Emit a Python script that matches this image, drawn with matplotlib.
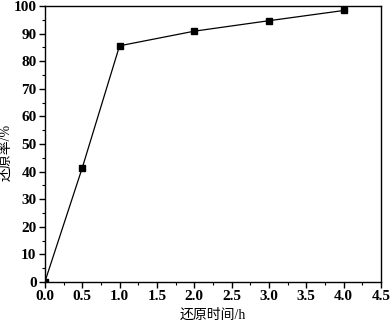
import matplotlib
matplotlib.use("Agg")
import matplotlib.pyplot as plt
from matplotlib.ticker import MultipleLocator, FormatStrFormatter

# reduction time (h) vs reduction rate (%)
time_h = [0.0, 0.5, 1.0, 2.0, 3.0, 4.0]
rate_pct = [0.0, 41.3, 85.6, 90.9, 94.7, 98.4]

plt.rcParams['font.family'] = ['Liberation Serif', 'Noto Sans CJK SC']

fig = plt.figure(figsize=(3.9, 3.2), dpi=100)
ax = fig.add_axes([0.115, 0.119, 0.862, 0.862])

ax.plot(time_h, rate_pct, color='black', lw=0.9, marker='s', ms=5,
        mfc='black', mec='black')

ax.set_xlim(0, 4.5)
ax.set_ylim(0, 100)
ax.xaxis.set_major_locator(MultipleLocator(0.5))
ax.xaxis.set_minor_locator(MultipleLocator(0.25))
ax.yaxis.set_major_locator(MultipleLocator(10))
ax.yaxis.set_minor_locator(MultipleLocator(5))
ax.xaxis.set_major_formatter(FormatStrFormatter('%.1f'))
ax.tick_params(which='major', direction='out', length=4, width=1, labelsize=11, pad=2)
ax.tick_params(which='minor', direction='out', length=2, width=0.8)
for lab in ax.get_xticklabels() + ax.get_yticklabels():
    lab.set_fontweight('bold')
for sp in ax.spines.values():
    sp.set_linewidth(1.0)

ax.set_xlabel('还原时间/h', fontsize=10)
ax.set_ylabel('还原率/%', fontsize=10)
ax.xaxis.set_label_coords(0.5, -0.095)
ax.yaxis.set_label_coords(-0.095, 0.47)

fig.savefig('out.png', dpi=100)
